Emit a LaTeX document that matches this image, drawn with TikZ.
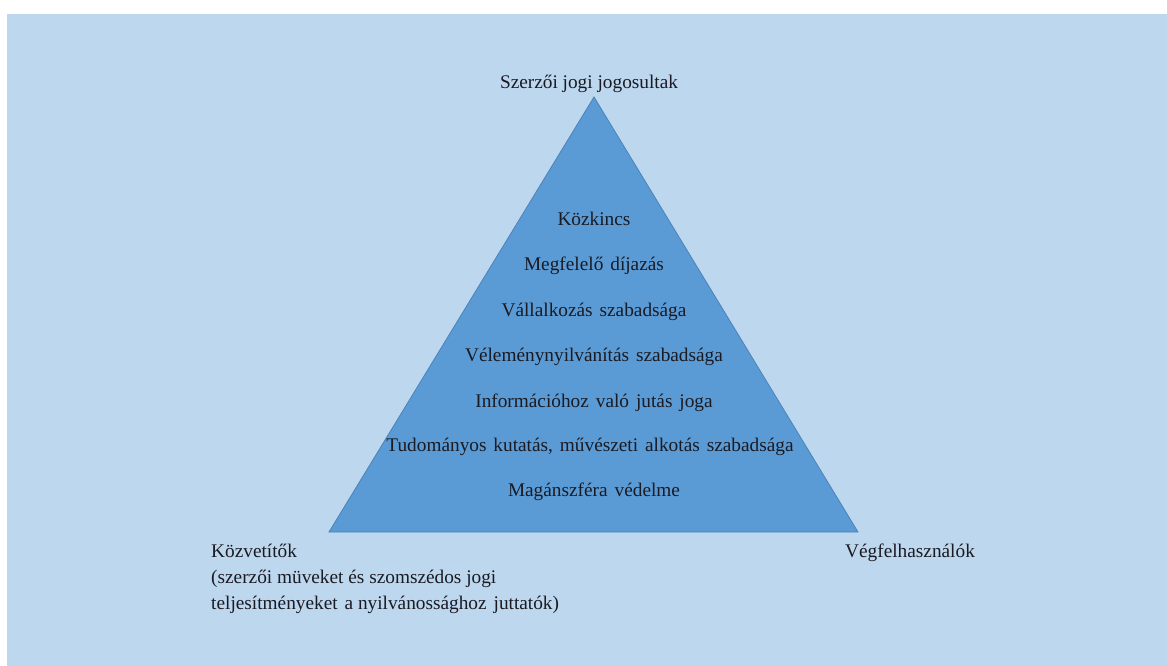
\documentclass[tikz,border=0pt]{standalone}
\usepackage{fontspec}
\setmainfont{Liberation Serif}
\definecolor{bgblue}{HTML}{BDD7EE}
\definecolor{trifill}{HTML}{5B9BD5}
\definecolor{triedge}{HTML}{4A83BA}
\definecolor{txt}{HTML}{1A1A22}
\newcommand{\gap}{\hspace{0.36em}}
\begin{document}
\begin{tikzpicture}[x=1pt,y=-1pt,
  lbl/.style={font=\fontsize{19.3}{26}\selectfont, text=txt, inner sep=0pt},
  corner/.style={lbl, align=left, anchor=north west}]
\useasboundingbox (0,0) rectangle (1167,666);
\fill[white] (0,0) rectangle (1167,666);
\fill[bgblue] (7,14) rectangle (1167,666);
\coordinate (apex) at (594,97);
\coordinate (bl) at (329,532);
\coordinate (br) at (858,532);
\filldraw[fill=trifill, draw=triedge, line width=0.8pt] (apex) -- (bl) -- (br) -- cycle;
\node[lbl] (top) at (589,84) {Szerzői jogi jogosultak};
\node[lbl] (k1) at (594,219) {Közkincs};
\node[lbl] (k2) at (594,266) {Megfelelő\gap díjazás};
\node[lbl] (k3) at (594,312) {Vállalkozás\gap szabadsága};
\node[lbl] (k4) at (594,357) {Véleménynyilvánítás\gap szabadsága};
\node[lbl] (k5) at (594,403) {Információhoz\gap való\gap jutás\gap joga};
\node[lbl] (k6) at (590,447) {Tudományos\gap kutatás,\gap művészeti\gap alkotás\gap szabadsága};
\node[lbl] (k7) at (594,492) {Magánszféra\gap védelme};
\node[corner] (left) at (211,544) {Közvetítők\\(szerzői müveket és szomszédos jogi\\teljesítményeket\gap a nyilvánossághoz\gap juttatók)};
\node[corner] (right) at (845,544) {Végfelhasználók};
\end{tikzpicture}
\end{document}
